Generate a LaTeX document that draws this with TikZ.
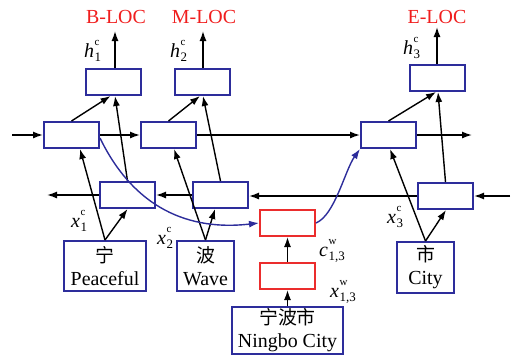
\documentclass[tikz,border=0pt]{standalone}
\usepackage{fontspec}
\setmainfont{Liberation Serif}
\newfontfamily\cjk{Noto Sans CJK SC}
\usetikzlibrary{arrows.meta,calc}
\definecolor{cellblue}{RGB}{45,45,155}
\definecolor{cellred}{RGB}{235,45,45}
\definecolor{tagred}{RGB}{240,30,30}
% italic symbol with a small upright superscript and a subscript below it
\newcommand\vecl[3]{\textit{#1}\kern0.5pt\rlap{\raisebox{12pt}{\fontsize{11}{11}\selectfont #3}}\raisebox{-4.5pt}{\fontsize{13}{13}\selectfont #2}}
\begin{document}
\begin{tikzpicture}[x=1bp,y=-1bp,
  cell/.style={draw=cellblue,line width=2bp,minimum width=55bp,minimum height=26bp,inner sep=0pt},
  rcell/.style={cell,draw=cellred},
  word/.style={draw=cellblue,line width=2bp,inner sep=0pt,align=center,
    minimum height=50bp,font=\fontsize{20}{23}\selectfont},
  arr/.style={line width=1.4bp,-{Latex[length=10bp,width=7bp]}},
  link/.style={arr,draw=cellblue},
  tag/.style={text=tagred,inner sep=0pt,font=\fontsize{20}{20}\selectfont},
  lab/.style={inner sep=0pt,anchor=base west,font=\fontsize{20}{20}\selectfont}
]
\useasboundingbox (0,0) rectangle (514,357);

% output cells
\node[cell] (h1) at (113.5,82) {};
\node[cell] (h2) at (202.5,82) {};
\node[cell] (h3) at (437.5,78) {};
% forward row
\node[cell] (f1) at (71.5,135) {};
\node[cell] (f2) at (168.5,135) {};
\node[cell] (f3) at (388.5,135) {};
% backward row
\node[cell] (b1) at (127.5,195) {};
\node[cell] (b2) at (220.5,195) {};
\node[cell] (b3) at (445.5,196) {};
% word cells
\node[rcell] (c13) at (287.5,223) {};
\node[rcell] (x13) at (287.5,276) {};
% inputs
\node[word,minimum width=82bp] (w1) at (105,266) {{\cjk\fontsize{19}{22}\selectfont 宁}\\Peaceful};
\node[word,minimum width=57bp] (w2) at (205.5,266) {{\cjk\fontsize{19}{22}\selectfont 波}\\Wave};
\node[word,minimum width=57bp,minimum height=51bp] (w3) at (425.5,267.5) {{\cjk\fontsize{19}{22}\selectfont 市}\\City};
\node[word,minimum width=111bp,minimum height=47bp] (ws) at (287.5,330.5) {{\cjk\fontsize{19}{22}\selectfont 宁波市}\\Ningbo City};

% free ends
\coordinate (fin) at (12,135);
\coordinate (fout) at (472,135);
\coordinate (bin) at (510,196);
\coordinate (bout) at (47,195);
\coordinate (o1) at (115,31);
\coordinate (o2) at (203,31);
\coordinate (o3) at (437,27);

% tags
\node[tag] (t1) at (116,17) {B-LOC};
\node[tag] (t2) at (204,17) {M-LOC};
\node[tag] (t3) at (437,17) {E-LOC};

% labels
\node[lab] (lh1) at (84,57) {\vecl{h}{1}{c}};
\node[lab] (lh2) at (170,57) {\vecl{h}{2}{c}};
\node[lab] (lh3) at (403,54) {\vecl{h}{3}{c}};
\node[lab] (lx1) at (71,227) {\vecl{x}{1}{c}};
\node[lab] (lx2) at (157,244) {\vecl{x}{2}{c}};
\node[lab] (lx3) at (387,223) {\vecl{x}{3}{c}};
\node[lab] (lc) at (319,256) {\vecl{c}{1,3}{w}};
\node[lab] (lxw) at (330,297) {\vecl{x}{1,3}{w}};

% forward chain
\draw[arr] (fin) -- (f1.west);
\draw[arr] (f1.east) -- (f2.west);
\draw[arr] (f2.east) -- (f3.west);
\draw[arr] (f3.east) -- (fout);
% backward chain
\draw[arr] (bin) -- (b3.east);
\draw[arr] (b3.west) -- (b2.east |- b3.west);
\draw[arr] (b2.west) -- (b1.east);
\draw[arr] (b1.west) -- (bout);

% inputs into both directions
\draw[arr] (w1.north) -- ($(f1.south)+(8.5,0)$);
\draw[arr] (w1.north) -- (b1.south);
\draw[arr] (w2.north) -- ($(f2.south)+(5.5,0)$);
\draw[arr] (w2.north) -- ($(b2.south)+(-5.5,0)$);
\draw[arr] (w3.north) -- ($(f3.south)+(1.5,0)$);
\draw[arr] (w3.north) -- ($(b3.south)+(0.5,0)$);

% both directions into the outputs
\draw[arr] (f1.north) -- ($(h1.south)+(-3,0)$);
\draw[arr] (b1.north) -- ($(h1.south)+(1.5,0)$);
\draw[arr] (f2.north) -- ($(h2.south)+(-2.5,0)$);
\draw[arr] (b2.north) -- ($(h2.south)+(0.5,0)$);
\draw[arr] (f3.north) -- ($(h3.south)+(-1.5,0)$);
\draw[arr] (b3.north) -- ($(h3.south)+(0.5,0)$);

% outputs
\draw[arr] (h1.north -| o1) -- (o1);
\draw[arr] (h2.north -| o2) -- (o2);
\draw[arr] (h3.north -| o3) -- (o3);

% word path
\draw[arr] (ws.north -| x13) -- (x13.south);
\draw[arr] (x13.north) -- (c13.south);
\draw[link] ($(f1.east)+(0,3)$) .. controls (130,200) and (180,232) .. (c13.west);
\draw[link] (c13.east) .. controls (335,215) and (345,170) .. (f3.south west);
\end{tikzpicture}
\end{document}
